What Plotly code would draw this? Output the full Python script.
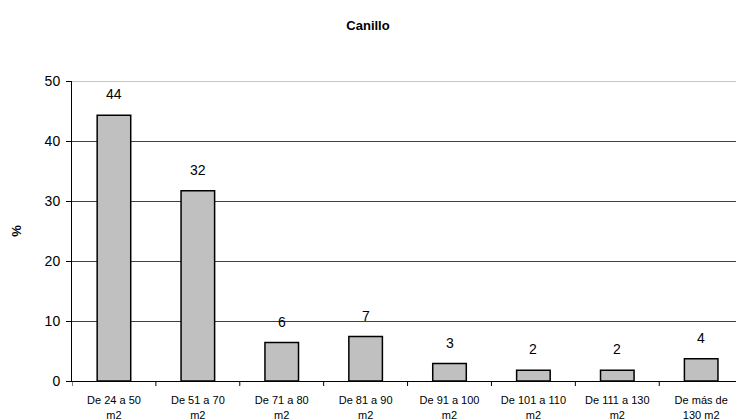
import plotly.graph_objects as go

# Surface ranges (categories) and share of dwellings (%)
categories = [
    "De 24 a 50<br>m2",
    "De 51 a 70<br>m2",
    "De 71 a 80<br>m2",
    "De 81 a 90<br>m2",
    "De 91 a 100<br>m2",
    "De 101 a 110<br>m2",
    "De 111 a 130<br>m2",
    "De más de<br>130 m2",
]
shares = [44.3, 31.7, 6.4, 7.4, 2.9, 1.8, 1.8, 3.7]
y_ticks = [0, 10, 20, 30, 40, 50]

FONT = "Liberation Sans, Arial, sans-serif"

fig = go.Figure()
fig.add_trace(go.Bar(
    x=list(range(len(categories))),
    y=shares,
    marker=dict(color="#c0c0c0", line=dict(color="#000000", width=1.5)),
    hoverinfo="skip",
))

# Value labels, rounded to whole percent
for i, v in enumerate(shares):
    fig.add_annotation(
        x=i, y=v, text=f"{round(v)}", showarrow=False,
        yanchor="bottom", yshift=11,
        font=dict(family=FONT, size=14, color="#000000"),
    )

# Thin grey top border of the plot area
fig.add_shape(type="line", xref="paper", yref="y", x0=0, x1=1, y0=50, y1=50,
              line=dict(color="#8c8c8c", width=1))

fig.update_layout(
    width=736, height=420,
    margin=dict(l=72, r=0, t=81, b=39),
    paper_bgcolor="white", plot_bgcolor="white",
    bargap=0.6,
    showlegend=False,
    title=dict(text="<b>Canillo</b>", x=0.5, xanchor="center", y=0.94, yanchor="middle",
               font=dict(family=FONT, size=13, color="#000000")),
    font=dict(family=FONT, color="#000000"),
)

fig.update_xaxes(
    type="linear",
    range=[-0.5, 7.415],
    tickmode="array",
    tickvals=list(range(len(categories))),
    ticktext=categories,
    showgrid=False,
    showline=True, linecolor="#000000", linewidth=1,
    ticks="", zeroline=False,
    ticklabelstandoff=9,
    tickfont=dict(family=FONT, size=11, color="#000000"),
)

# Boundary tick marks between categories
for b in range(len(categories) + 1):
    fig.add_shape(type="line", xref="x", yref="paper",
                  x0=b - 0.5, x1=b - 0.5, y0=0, y1=-0.0167,
                  line=dict(color="#000000", width=1))

fig.update_yaxes(
    range=[0, 50],
    tickmode="array", tickvals=y_ticks,
    showgrid=True, gridcolor="#404040", gridwidth=1,
    showline=True, linecolor="#000000", linewidth=1,
    ticks="outside", ticklen=5, tickcolor="#000000",
    zeroline=False,
    ticklabelstandoff=3,
    tickfont=dict(family=FONT, size=14, color="#000000"),
    title=dict(text="<b>%</b>", font=dict(family=FONT, size=13, color="#000000"), standoff=20),
)

fig.write_html("out.html")
